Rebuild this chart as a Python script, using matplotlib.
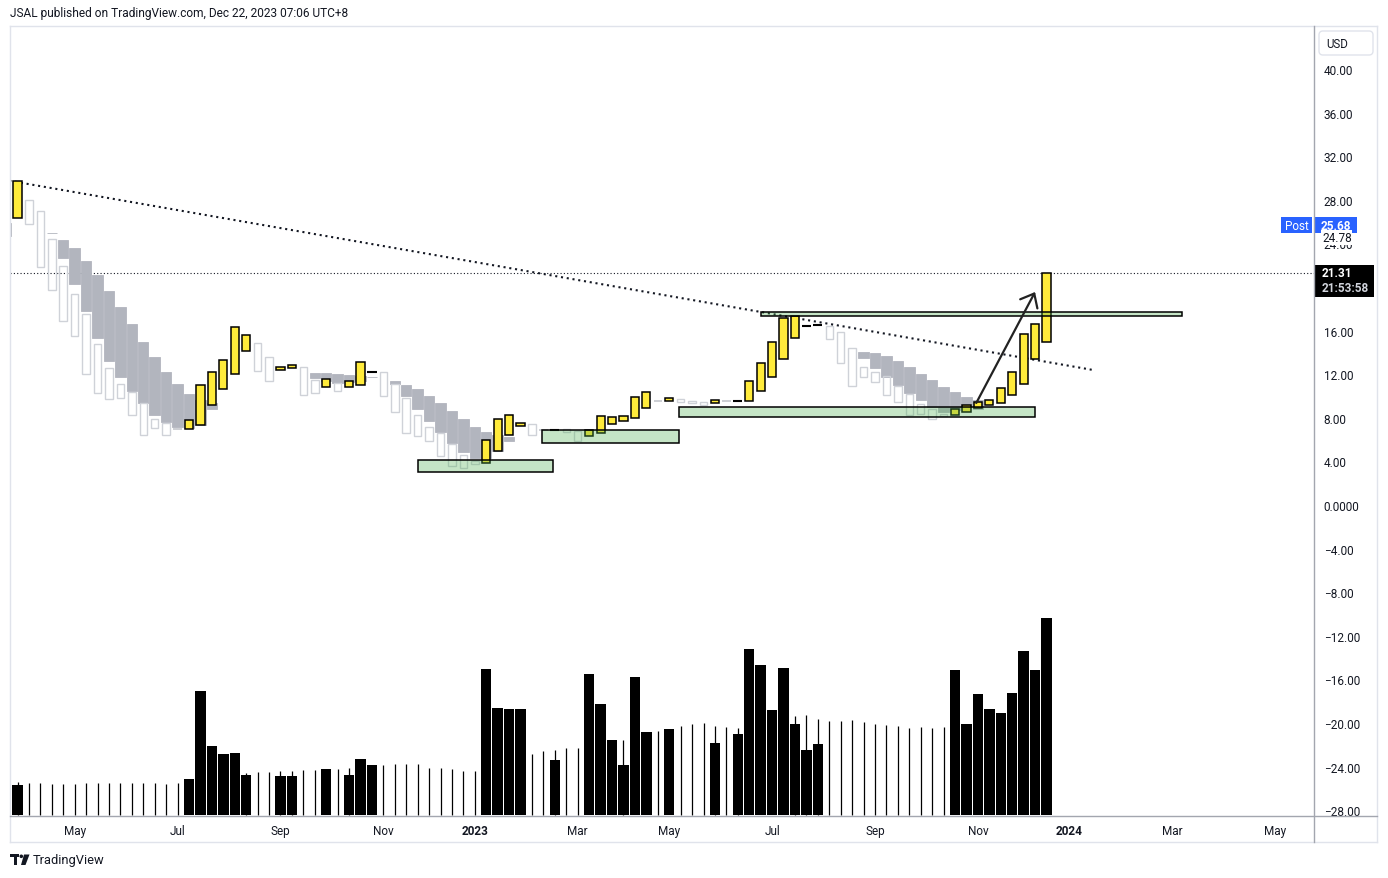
import matplotlib

matplotlib.use("Agg")
import matplotlib.pyplot as plt  # noqa: E402
import matplotlib.dates as mdates  # noqa: E402
import numpy as np  # noqa: E402
import pandas as pd  # noqa: E402
from matplotlib.patches import Rectangle, FancyBboxPatch, Polygon, Circle  # noqa: E402

W, H = 1388, 879
FONT = "Roboto"
TXT = "#131722"
YELLOW = "#ffeb3b"
GREY = "#b2b5be"
HOLLOW = "#cfd2d8"
ZONE = (0.298, 0.686, 0.314, 0.32)

# weekly bars, week 0 = 2022-03-28
weeks = pd.date_range("2022-03-28", periods=91, freq="7D")
body_hi = [29.7, 28.0, 27.0, 24.4, 21.9, 19.4, 17.5, 14.8, 12.6, 11.1,
           10.4, 9.4, 7.9, 7.5, 7.0, 7.8, 11.0, 12.2, 13.3, 16.3,
           15.6, 14.9, 13.6, 12.7, 12.8, 12.7, 11.5, 11.6, 11.2, 11.4,
           13.1, 12.2, 12.2, 11.1, 9.8, 8.3, 7.2, 6.6, 5.6, 4.6,
           4.0, 6.0, 7.9, 8.3, 7.5, 7.4, 6.9, 6.9, 6.95, 6.8,
           6.9, 8.2, 8.1, 8.2, 9.9, 10.4, 9.5, 9.8, 9.7, 9.5,
           9.45, 9.6, 9.5, 9.5, 11.4, 13.0, 15.0, 17.2, 17.3, 16.4,
           16.5, 16.4, 15.9, 14.4, 12.7, 12.2, 11.8, 10.9, 10.2, 9.3,
           8.8, 8.35, 8.8, 9.2, 9.45, 9.6, 10.7, 12.2, 15.7, 16.6, 21.31]
body_lo = [26.3, 25.8, 21.8, 19.7, 16.9, 15.5, 12.0, 10.3, 9.7, 9.8,
           8.3, 6.4, 7.1, 6.4, 7.0, 7.0, 7.3, 9.2, 10.6, 12.0,
           14.1, 12.3, 11.4, 12.4, 12.6, 10.1, 10.3, 10.8, 10.5, 10.8,
           11.0, 12.2, 10.0, 8.5, 6.6, 6.3, 5.9, 4.5, 3.6, 3.4,
           3.75, 3.85, 5.0, 6.4, 7.25, 6.4, 6.9, 6.9, 6.7, 5.9,
           6.3, 6.6, 7.4, 7.7, 8.0, 8.9, 9.5, 9.5, 9.45, 9.35,
           9.2, 9.35, 9.5, 9.5, 9.55, 10.5, 11.7, 13.4, 15.3, 16.4,
           16.5, 15.2, 13.0, 10.9, 11.7, 11.3, 10.1, 9.45, 8.3, 8.35,
           7.9, 8.15, 8.25, 8.5, 8.9, 9.2, 9.35, 10.1, 11.1, 13.4, 15.0]
body_up = [1, 0, 0, 0, 0, 0, 0, 0, 0, 0,
           0, 0, 0, 0, 0, 1, 1, 1, 1, 1,
           1, 0, 0, 1, 1, 0, 0, 1, 0, 1,
           1, 1, 0, 0, 0, 0, 0, 0, 0, 0,
           0, 1, 1, 1, 1, 0, 0, 1, 0, 0,
           1, 1, 1, 1, 1, 1, 0, 1, 0, 0,
           0, 1, 0, 1, 1, 1, 1, 1, 1, 1,
           1, 0, 0, 0, 0, 0, 0, 0, 0, 0,
           0, 0, 1, 1, 1, 1, 1, 1, 1, 1, 1]

# second (grey filled) series, by week index
grey_idx = [-1, 3, 4, 5, 6, 7, 8, 9, 10, 11, 12, 13, 14, 15, 16, 17,
            26, 27, 28, 29, 30, 31, 33, 34, 35, 36, 37, 38, 39, 40, 41, 42, 43,
            74, 75, 76, 77, 78, 79, 80, 81, 82, 83, 84]
grey_hi = [25.9, 25.0, 24.3, 23.6, 22.4, 21.1, 19.6, 18.2, 16.6, 15.0, 13.6, 12.2, 11.1, 10.2, 9.6, 9.4,
           12.1, 12.1, 12.0, 11.9, 11.8, 11.75, 11.4, 11.0, 10.6, 10.0, 9.4, 8.6, 7.9, 7.2, 6.7, 6.4, 6.2,
           14.0, 13.9, 13.7, 13.2, 12.7, 12.0, 11.5, 10.8, 10.4, 9.9, 9.6]
grey_lo = [24.7, 25.0, 22.7, 20.3, 17.8, 15.3, 13.2, 11.7, 10.5, 9.4, 8.3, 7.6, 7.2, 7.1, 7.3, 8.8,
           11.65, 11.4, 11.2, 11.3, 11.4, 11.75, 11.1, 10.0, 8.8, 7.7, 6.7, 5.7, 4.9, 4.3, 4.3, 5.0, 5.9,
           13.5, 12.6, 11.7, 11.0, 10.3, 9.6, 9.0, 8.5, 8.7, 9.1, 8.8]

# volume (relative units), wide bars and thin bars
vol_bar = [30, 0, 0, 0, 0, 0, 0, 0, 0, 0,
           0, 0, 0, 0, 0, 36, 124, 69, 61, 62,
           40, 0, 0, 39, 39, 0, 0, 46, 0, 40,
           56, 50, 0, 0, 0, 0, 0, 0, 0, 0,
           0, 146, 107, 106, 106, 0, 0, 55, 0, 0,
           141, 111, 75, 50, 138, 83, 0, 86, 0, 0,
           0, 72, 0, 81, 166, 150, 105, 147, 91, 65,
           71, 0, 0, 0, 0, 0, 0, 0, 0, 0,
           0, 0, 145, 91, 121, 106, 102, 122, 164, 145, 197]
vol_line = [33, 32, 32, 31, 31, 31, 32, 32, 32, 32,
            32, 32, 32, 31, 32, 0, 0, 0, 0, 0,
            42, 43, 43, 44, 44, 45, 45, 0, 46, 47,
            0, 0, 50, 51, 51, 51, 47, 47, 46, 44,
            44, 0, 0, 0, 0, 61, 64, 65, 67, 67,
            0, 0, 0, 75, 0, 0, 84, 0, 89, 91,
            92, 89, 88, 87, 0, 0, 0, 0, 99, 100,
            96, 94, 94, 95, 93, 91, 90, 89, 87, 88,
            87, 88, 0, 0, 0, 0, 0, 0, 0, 0, 0]

trend_dates = ["2022-03-23", "2024-01-15"]
trend_px = [29.75, 12.4]
last_px = 21.31
post_px = 25.68
zone_start = ["2022-11-28", "2023-02-12", "2023-05-07", "2023-06-26"]
zone_end = ["2023-02-19", "2023-05-07", "2023-12-11", "2024-03-10"]
zone_lo = [3.03, 5.69, 8.07, 17.37]
zone_hi = [4.13, 6.88, 8.99, 17.68]
arrow_dates = ["2023-11-05", "2023-12-11"]
arrow_px = [9.36, 19.54]

# time-scale labels sit on the first weekly bar of each month
month_dates = ["2022-05-02", "2022-07-04", "2022-09-05", "2022-11-07", "2023-01-02",
               "2023-03-06", "2023-05-01", "2023-07-03", "2023-09-04", "2023-11-06",
               "2024-01-01", "2024-03-04", "2024-05-06"]
month_labels = ["May", "Jul", "Sep", "Nov", "2023", "Mar", "May", "Jul", "Sep", "Nov",
                "2024", "Mar", "May"]
# price scale marks (20.00 sits under the last-price tag, so it is not shown)
price_ticks = [-28, -24, -20, -16, -12, -8, -4, 0, 4, 8, 12, 16, 24, 28, 32, 36, 40]

plt.rcParams.update({"font.family": FONT, "font.size": 8.5})

fig = plt.figure(figsize=(W / 100, H / 100), dpi=100)
fig.patch.set_facecolor("white")
L, R, T, B = 10, 1314, 27, 817
ax = fig.add_axes([L / W, (H - B) / H, (R - L) / W, (B - T) / H])
ax2 = ax.twinx()
ax.set_zorder(ax2.get_zorder() + 1)
ax.patch.set_visible(False)

x = mdates.date2num(weeks)
hi = np.array(body_hi)
lo = np.array(body_lo)
up = np.array(body_up, bool)
flat = np.isclose(hi, lo)

gx = mdates.date2num([weeks[0] + pd.Timedelta(days=7 * i) for i in grey_idx])
gh, gl = np.array(grey_hi), np.array(grey_lo)
ax.bar(gx, gh - gl, bottom=gl, width=6.4, color=GREY, edgecolor=GREY, lw=0.6, zorder=2)

m = ~up & ~flat
ax.bar(x[m], hi[m] - lo[m], bottom=lo[m], width=4.6, facecolor="none",
       edgecolor=HOLLOW, lw=1.0, zorder=3)
m = ~up & flat
ax.hlines(hi[m], x[m] - 2.6, x[m] + 2.6, color="#c4c6cc", lw=1.2, zorder=3)
m = up & ~flat
ax.bar(x[m], hi[m] - lo[m], bottom=lo[m], width=5.0, facecolor=YELLOW,
       edgecolor="black", lw=1.1, zorder=4)
m = up & flat
ax.hlines(hi[m], x[m] - 2.8, x[m] + 2.8, color="black", lw=1.5, zorder=4)

# volume
vb, vl = np.array(vol_bar), np.array(vol_line)
ax2.bar(x[vb > 0], vb[vb > 0], width=6.4, color="black", lw=0)
ax2.vlines(x[vl > 0], 0, vl[vl > 0], color="black", lw=0.9)
ax2.set_ylim(-1, B - T - 1)
ax2.set_yticks([])
for s in ax2.spines.values():
    s.set_visible(False)

# drawings
td = mdates.date2num(pd.to_datetime(trend_dates))
ax.plot(td, trend_px, color=TXT, lw=1.5, ls=(0, (1, 1.8)), zorder=3.5)
ax.axhline(last_px, color=TXT, lw=0.8, ls=(0, (1, 2)), zorder=1)
for d0, d1, p0, p1 in zip(zone_start, zone_end, zone_lo, zone_hi):
    a, b = mdates.date2num(pd.Timestamp(d0)), mdates.date2num(pd.Timestamp(d1))
    ax.add_patch(Rectangle((a, p0), b - a, p1 - p0, facecolor=ZONE,
                           edgecolor="black", lw=1.1, zorder=5))
ad = mdates.date2num(pd.to_datetime(arrow_dates))
ax.annotate("", xy=(ad[1], arrow_px[1]), xytext=(ad[0], arrow_px[0]),
            arrowprops=dict(arrowstyle="->,head_length=0.6,head_width=0.5",
                            mutation_scale=14, lw=1.6, color="#222222",
                            shrinkA=0, shrinkB=0), zorder=6)

# axes ranges: first bar centre at px 17.5, last at 1046.5
px_day = (1046.5 - 17.5) / (weeks[-1] - weeks[0]).days
x0 = x[0] - (17.5 - L) / px_day
x1 = x[0] + (R - 17.5) / px_day
ax.set_xlim(x0, x1)
ppu = 10.9
ax.set_ylim((506 - B) / ppu, (506 - T) / ppu)

ax.yaxis.tick_right()
ax.set_yticks(price_ticks)
ax.set_yticklabels(["0.0000" if v == 0 else f"{v:.2f}".replace("-", "\u2212")
                    for v in price_ticks])
ax.set_xticks(mdates.date2num(pd.to_datetime(month_dates)))
ax.set_xticklabels(month_labels)
for lab in ax.get_xticklabels():
    if lab.get_text().isdigit():
        lab.set_fontweight("bold")
ax.tick_params(axis="y", length=0, pad=7, colors=TXT, labelsize=8.5)
ax.tick_params(axis="x", length=0, pad=6, colors=TXT, labelsize=8.5)
for s in ax.spines.values():
    s.set_visible(False)

# chart chrome in pixel coordinates
ui = fig.add_axes([0, 0, 1, 1], zorder=20)
ui.set_xlim(0, W)
ui.set_ylim(H, 0)
ui.axis("off")
ui.patch.set_visible(False)


def ypx(p):
    return H - ax.transData.transform((x0, p))[1]


light = "#e0e3eb"
axis_c = "#a3a6af"
ui.plot([L, 1377], [T, T], color=light, lw=1)
ui.plot([L, L], [T, 843], color=light, lw=1)
ui.plot([1377, 1377], [T, 843], color=light, lw=1)
ui.plot([L, 1377], [843, 843], color=light, lw=1)
ui.plot([R + 0.5, R + 0.5], [T, 843], color=axis_c, lw=1)
ui.plot([L, 1377], [B, B], color=axis_c, lw=1)

ui.add_patch(FancyBboxPatch((1319, 32), 54, 24, boxstyle="round,pad=0,rounding_size=4",
                            facecolor="white", edgecolor=light, lw=1))
ui.text(1337, 44.5, "USD", ha="center", va="center", fontsize=8.3, color=TXT)

yp = ypx(post_px)
ui.add_patch(Rectangle((1281, yp - 8), 31, 16, facecolor="#2962ff", edgecolor="none"))
ui.text(1296.5, yp, "Post", ha="center", va="center", color="white", fontsize=8.5)
ui.add_patch(Rectangle((1314, yp - 8), 43, 16, facecolor="#2962ff", edgecolor="none"))
ui.text(1336, yp, "25.68", ha="center", va="center", color="white", fontsize=8.5,
        fontweight="bold")
ui.text(1322, yp + 12.5, "24.78", ha="left", va="center", color=TXT, fontsize=8.5,
        bbox=dict(boxstyle="square,pad=0.05", facecolor="white", edgecolor="none"))

yl = ypx(last_px)
ui.add_patch(Rectangle((1314, yl - 8), 60, 32, facecolor="black", edgecolor="none"))
ui.text(1322, yl, "21.31", ha="left", va="center", color="white", fontsize=8.5,
        fontweight="bold")
ui.text(1322, yl + 15, "21:53:58", ha="left", va="center", color="#d1d4dc", fontsize=8.5,
        fontweight="bold")

ui.text(10, 14, "JSAL published on TradingView.com, Dec 22, 2023 07:06 UTC+8",
        ha="left", va="center", fontsize=8.6, color=TXT)

# TradingView logo + word mark
ui.add_patch(Rectangle((10, 855.5), 9, 3, facecolor=TXT, edgecolor="none"))
ui.add_patch(Rectangle((14, 855.5), 3.5, 10.5, facecolor=TXT, edgecolor="none"))
ui.add_patch(Circle((21.3, 857.3), 1.8, facecolor=TXT, edgecolor="none"))
ui.add_patch(Polygon([(24, 855.5), (29.5, 855.5), (25.5, 866), (21, 866)],
                     facecolor=TXT, edgecolor="none"))
ui.text(33, 861, "TradingView", ha="left", va="center", fontsize=9.3, color=TXT)

fig.savefig("out.png", dpi=100, facecolor="white")
